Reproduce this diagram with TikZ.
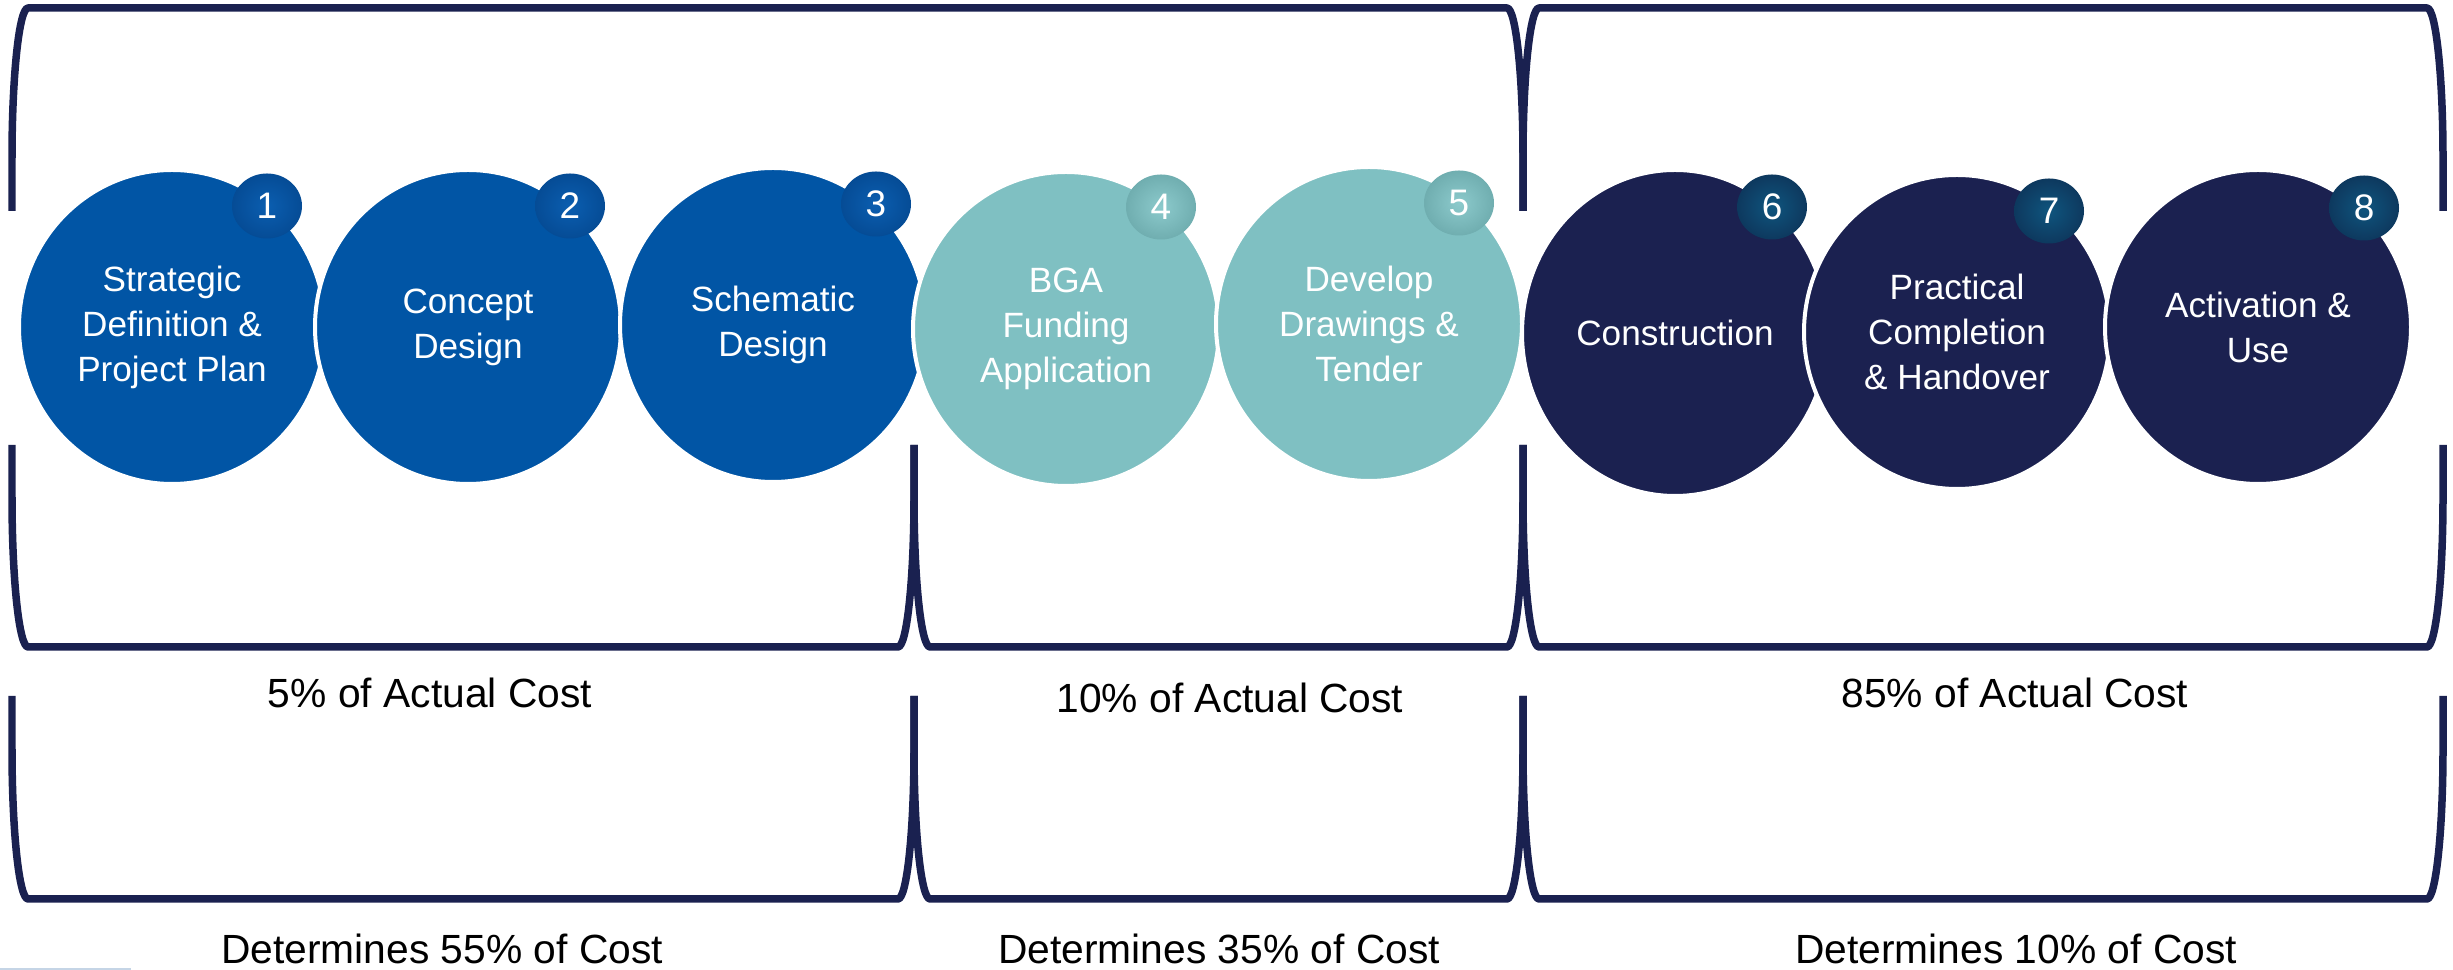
\documentclass[tikz,border=0pt]{standalone}
\usepackage{fontspec}
\setmainfont{Liberation Sans}
\usetikzlibrary{shapes.geometric}
\definecolor{cblue}{HTML}{0155A5}
\definecolor{cteal}{HTML}{7FC0C2}
\definecolor{cnavy}{HTML}{1B2150}
\definecolor{bline}{HTML}{1A2150}
\definecolor{artline}{HTML}{C5D5E6}
\definecolor{blueIn}{HTML}{0B5EB0}
\definecolor{blueMid}{HTML}{044890}
\definecolor{blueOut}{HTML}{01234C}
\definecolor{tealIn}{HTML}{8CCACC}
\definecolor{tealMid}{HTML}{6AA8AA}
\definecolor{tealOut}{HTML}{36656A}
\definecolor{navyIn}{HTML}{0F557E}
\definecolor{navyMid}{HTML}{0D3358}
\definecolor{navyOut}{HTML}{101530}
\pgfdeclareradialshading{bblue}{\pgfpoint{0bp}{0bp}}{color(0bp)=(blueIn); color(30bp)=(blueMid); color(47bp)=(blueOut); color(50bp)=(blueOut)}
\pgfdeclareradialshading{bteal}{\pgfpoint{0bp}{0bp}}{color(0bp)=(tealIn); color(30bp)=(tealMid); color(47bp)=(tealOut); color(50bp)=(tealOut)}
\pgfdeclareradialshading{bnavy}{\pgfpoint{0bp}{0bp}}{color(0bp)=(navyIn); color(30bp)=(navyMid); color(47bp)=(navyOut); color(50bp)=(navyOut)}
\newcommand\upbrk[4]{% x1, x2, top y, end y
  \draw[brk] (#1,#4) -- (#1,#3+150) .. controls (#1,#3+67.2) and (#1+7.2,#3) .. (#1+16,#3)
    -- (#2-16,#3) .. controls (#2-7.2,#3) and (#2,#3+67.2) .. (#2,#3+150) -- (#2,#4);}
\newcommand\dnbrk[4]{% x1, x2, top y, bottom y
  \draw[brk] (#1,#3) -- (#1,#4-150) .. controls (#1,#4-67.2) and (#1+7.2,#4) .. (#1+16,#4)
    -- (#2-16,#4) .. controls (#2-7.2,#4) and (#2,#4-67.2) .. (#2,#4-150) -- (#2,#3);}
\begin{document}
\begin{tikzpicture}[x=0.1mm,y=-0.1mm,
  brk/.style={draw=bline, line width=0.75mm, line join=round},
  stage/.style={ellipse, draw=white, line width=0.4mm, inner sep=0pt,
    minimum width=30.6mm, minimum height=31.4mm, text=white, align=center,
    font=\fontsize{10}{12.8}\selectfont},
  badge/.style={ellipse, inner sep=0pt, minimum width=7mm, minimum height=6.5mm,
    text=white, font=\fontsize{10.5}{12}\selectfont},
  cost/.style={anchor=base, text=black, font=\fontsize{11.6}{14}\selectfont}]
\useasboundingbox (0,0) rectangle (2453,970);
% brackets
\upbrk{12}{1523}{8}{211}
\upbrk{1523}{2443}{8}{211}
\dnbrk{12}{914}{445}{647}
\dnbrk{914}{1523}{445}{647}
\dnbrk{1523}{2443}{445}{647}
\dnbrk{12}{914}{696}{899}
\dnbrk{914}{1523}{696}{899}
\dnbrk{1523}{2443}{696}{899}
% stages
\node[stage, fill=cblue] (c1) at (172,327) {Strategic\\Definition \&\\Project Plan};
\node[stage, fill=cblue] (c2) at (468,327) {Concept\\Design};
\node[stage, fill=cblue] (c3) at (773,325) {Schematic\\Design};
\node[stage, fill=cteal] (c4) at (1066,329) {BGA\\Funding\\Application};
\node[stage, fill=cnavy, minimum height=32.6mm] (c6) at (1675,333) {Construction};
\node[stage, fill=cteal] (c5) at (1369,324) {Develop\\Drawings \&\\Tender};
\node[stage, fill=cnavy] (c7) at (1957,332) {Practical\\Completion\\\& Handover};
\node[stage, fill=cnavy] (c8) at (2258,327) {Activation \&\\Use};
% badges
\node[badge, shading=bblue] (b1) at (267,206) {1};
\node[badge, shading=bblue] (b2) at (570,206) {2};
\node[badge, shading=bblue] (b3) at (876,204) {3};
\node[badge, shading=bteal] (b4) at (1161,207) {4};
\node[badge, shading=bteal] (b5) at (1459,203) {5};
\node[badge, shading=bnavy] (b6) at (1772,207) {6};
\node[badge, shading=bnavy] (b7) at (2049,211) {7};
\node[badge, shading=bnavy] (b8) at (2364,208) {8};
% cost labels
\node[cost] (a1) at (430,708) {5\% of Actual Cost};
\node[cost] (a2) at (1230,713) {10\% of Actual Cost};
\node[cost] (a3) at (2015,708) {85\% of Actual Cost};
\node[cost] (d1) at (442,964) {Determines 55\% of Cost};
\node[cost] (d2) at (1219,964) {Determines 35\% of Cost};
\node[cost] (d3) at (2016,964) {Determines 10\% of Cost};
% small artefact line
\draw[artline, line width=0.15mm] (0,969) -- (131,969);
\end{tikzpicture}
\end{document}
